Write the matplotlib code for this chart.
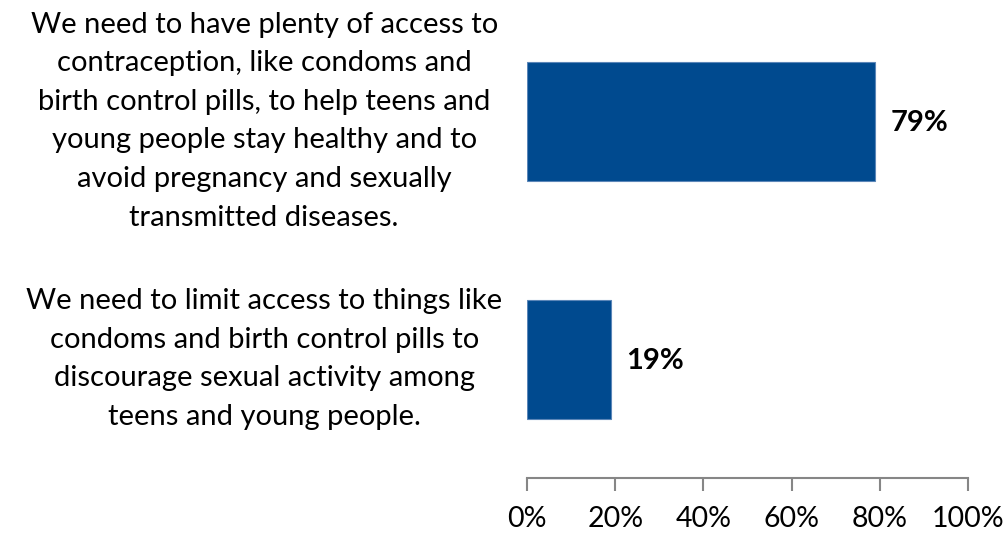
import matplotlib.pyplot as plt

categories = ['We need to have plenty of access to\ncontraception, like condoms and\nbirth control pills, to help teens and\nyoung people stay healthy and to\navoid pregnancy and sexually\ntransmitted diseases.',
              'We need to limit access to things like\ncondoms and birth control pills to\ndiscourage sexual activity among\nteens and young people.']
values = [79, 19]
xticks = [0, 20, 40, 60, 80, 100]
xticklabels = ['0%', '20%', '40%', '60%', '80%', '100%']

plt.rcParams['font.family'] = ['Lato', 'DejaVu Sans']

fig = plt.figure(figsize=(10.08, 5.33), dpi=100)
ax = fig.add_axes([527/1008, 1 - 478/533, (968 - 527)/1008, 476/533])

ypos = [0, 1]
ax.barh(ypos, values, height=0.5, color='#004A8F', edgecolor='#5b86b8', linewidth=0.8)
ax.set_ylim(1.5, -0.5)
ax.set_xlim(0, 100)

for y, v in zip(ypos, values):
    ax.text(v + 3.5, y + 0.01, str(v) + '%', va='center', ha='left', fontsize=21, fontweight='bold')

for y, c in zip(ypos, categories):
    ax.text(-59.6, y, c, va='center', ha='center', fontsize=21, linespacing=1.6,
            transform=ax.transData, clip_on=False)

ax.set_xticks(xticks)
ax.set_xticklabels(xticklabels, fontsize=20.5)
ax.set_yticks([])
for s in ['top', 'right', 'left']:
    ax.spines[s].set_visible(False)
ax.spines['bottom'].set_color('#868686')
ax.spines['bottom'].set_linewidth(1.5)
ax.tick_params(axis='x', direction='out', length=9, width=1.5, color='#868686', pad=11)

plt.savefig('out.png', dpi=100, facecolor='w')
